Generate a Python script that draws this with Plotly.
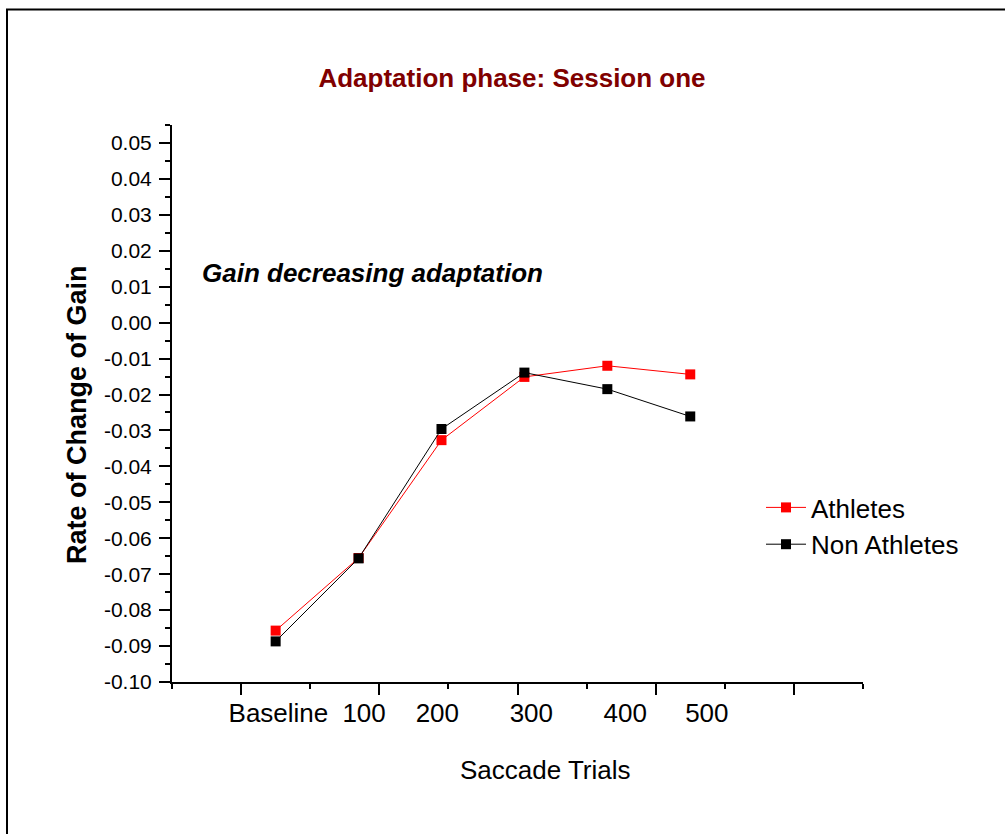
import plotly.graph_objects as go

# ---- data ----
trial_labels = ["Baseline", "100", "200", "300", "400", "500"]
point_x = [1.5, 2.7, 3.9, 5.1, 6.3, 7.5]          # position of each trial block on the x axis
label_x = [1.54, 2.78, 3.84, 5.2, 6.56, 7.74]     # where the category labels sit
athletes = [-0.0857, -0.0655, -0.0327, -0.0151, -0.0120, -0.0144]
non_athletes = [-0.0887, -0.0656, -0.0296, -0.0139, -0.0185, -0.0261]
y_tick_vals = [0.05, 0.04, 0.03, 0.02, 0.01, 0.0, -0.01, -0.02, -0.03, -0.04,
               -0.05, -0.06, -0.07, -0.08, -0.09, -0.10]
y_tick_text = ["0.05", "0.04", "0.03", "0.02", "0.01", "0.00", "-0.01", "-0.02", "-0.03",
               "-0.04", "-0.05", "-0.06", "-0.07", "-0.08", "-0.09", "-0.10"]
y_minor_vals = [0.055, 0.045, 0.035, 0.025, 0.015, 0.005, -0.005, -0.015, -0.025, -0.035,
                -0.045, -0.055, -0.065, -0.075, -0.085, -0.095]
x_major_vals = [1, 3, 5, 7, 9]
x_minor_vals = [0, 2, 4, 6, 8, 10]

FONT = "Arial, 'Liberation Sans', sans-serif"
W, H = 1005, 834
L, R, T, B = 172, 142, 125, 152
pw, ph = W - L - R, H - T - B

def px_x(p):
    return (p - L) / pw

def px_y(p):
    return (H - B - p) / ph

fig = go.Figure()
fig.add_trace(go.Scatter(
    x=point_x, y=athletes, name="Athletes", mode="lines+markers",
    line=dict(color="#ff0000", width=1),
    marker=dict(symbol="square", size=10, color="#ff0000", line=dict(width=0)),
))
fig.add_trace(go.Scatter(
    x=point_x, y=non_athletes, name="Non Athletes", mode="lines+markers",
    line=dict(color="#000000", width=1),
    marker=dict(symbol="square", size=10, color="#000000", line=dict(width=0)),
))
# invisible trace to carry the category tick labels on an overlaid axis
fig.add_trace(go.Scatter(x=label_x, y=athletes, xaxis="x2", mode="markers",
                         marker=dict(opacity=0), showlegend=False, hoverinfo="skip"))

fig.update_layout(
    width=W, height=H,
    margin=dict(l=L, r=R, t=T, b=B),
    paper_bgcolor="white", plot_bgcolor="white",
    font=dict(family=FONT, color="black"),
    title=dict(text="<b>Adaptation phase: Session one</b>",
               font=dict(size=26, color="#800000", family=FONT),
               x=512 / W, xanchor="center", xref="container",
               y=1 - 78 / H, yanchor="middle", yref="container"),
    xaxis=dict(range=[0, 10], showline=True, linecolor="black", linewidth=2,
               showgrid=False, zeroline=False,
               tickvals=x_major_vals, ticks="outside", ticklen=11, tickwidth=2,
               tickcolor="black", showticklabels=False,
               minor=dict(tickvals=x_minor_vals, ticks="outside", ticklen=5,
                          tickwidth=2, tickcolor="black", showgrid=False)),
    xaxis2=dict(range=[0, 10], overlaying="x", anchor="y", side="bottom",
                showline=False, showgrid=False, zeroline=False, ticks="",
                tickvals=label_x, ticktext=trial_labels,
                tickfont=dict(size=26, family=FONT, color="black"),
                ticklabelstandoff=13),
    yaxis=dict(range=[-0.10, 0.055], showline=True, linecolor="black", linewidth=2,
               showgrid=False, zeroline=False,
               tickvals=y_tick_vals, ticktext=y_tick_text,
               ticks="outside", ticklen=11, tickwidth=2, tickcolor="black",
               tickfont=dict(size=21, family=FONT, color="black"),
               ticklabelstandoff=3,
               minor=dict(tickvals=y_minor_vals, ticks="outside", ticklen=5,
                          tickwidth=2, tickcolor="black", showgrid=False)),
    legend=dict(x=px_x(761), y=px_y(484), xanchor="left", yanchor="top",
                bgcolor="rgba(0,0,0,0)", font=dict(size=26, family=FONT, color="black"),
                tracegroupgap=0, itemwidth=40),
    showlegend=True,
)

fig.add_annotation(text="<b>Rate of Change of Gain</b>", textangle=-90,
                   xref="paper", yref="paper", x=px_x(77), y=px_y(415),
                   xanchor="center", yanchor="middle", showarrow=False,
                   font=dict(size=27, family=FONT, color="black"))
fig.add_annotation(text="Saccade Trials", xref="paper", yref="paper",
                   x=px_x(545), y=px_y(770), xanchor="center", yanchor="middle",
                   showarrow=False, font=dict(size=26, family=FONT, color="black"))
fig.add_annotation(text="<b><i>Gain decreasing adaptation</i></b>", xref="paper", yref="paper",
                   x=px_x(200), y=px_y(273), xanchor="left", yanchor="middle",
                   showarrow=False, font=dict(size=26, family=FONT, color="black"))

fig.add_shape(type="rect", xref="paper", yref="paper",
              x0=px_x(7), x1=px_x(1015), y0=px_y(850), y1=px_y(9.5),
              line=dict(color="black", width=2), fillcolor="rgba(0,0,0,0)", layer="below")

fig.write_html("out.html", config={"displayModeBar": False},
               post_script="document.body.style.margin='0';document.body.style.overflow='hidden';")
